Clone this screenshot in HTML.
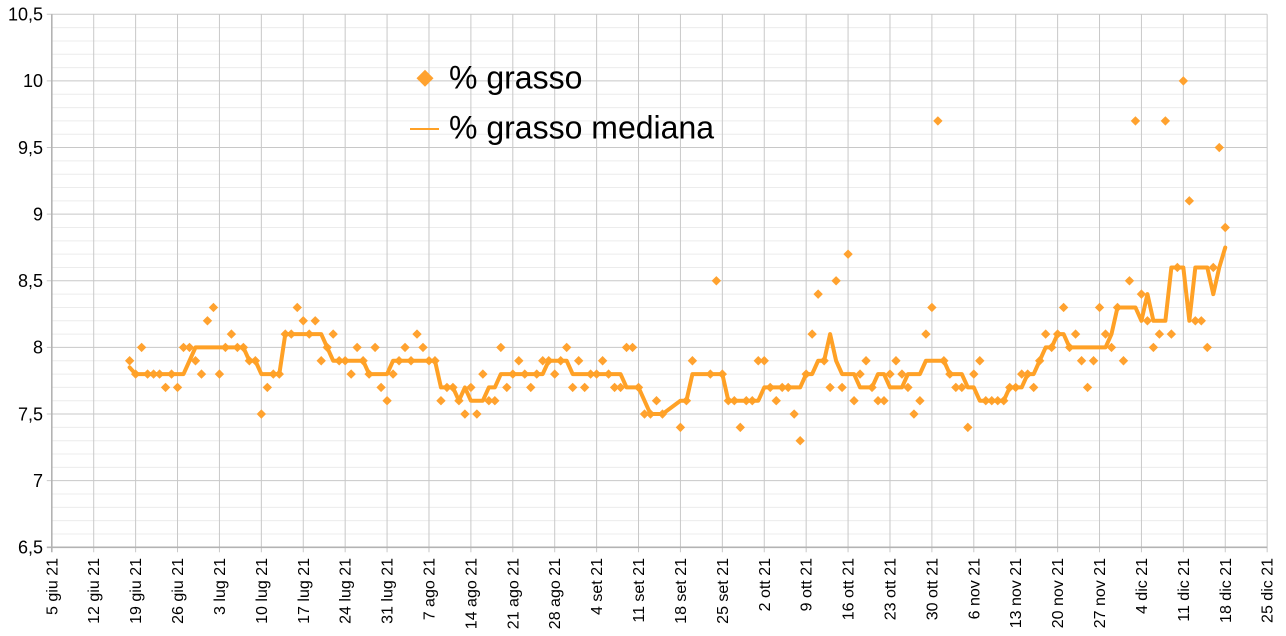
<!DOCTYPE html>
<html><head><meta charset="utf-8"><style>
html,body{margin:0;padding:0;background:#fff;}
svg{display:block;font-family:"Liberation Sans",Arial,sans-serif;}
</style></head><body>
<svg id="c" width="1286" height="636" viewBox="0 0 1286 636" xmlns="http://www.w3.org/2000/svg">
<rect x="0" y="0" width="1286" height="636" fill="#fff"/>
<g id="grid"></g>
<g id="series"></g>
<g font-size="18" fill="#000" text-anchor="end">
<text x="43" y="20.6">10,5</text>
<text x="43" y="87.2">10</text>
<text x="43" y="153.8">9,5</text>
<text x="43" y="220.5">9</text>
<text x="43" y="287.1">8,5</text>
<text x="43" y="353.7">8</text>
<text x="43" y="420.3">7,5</text>
<text x="43" y="487">7</text>
<text x="43" y="553.6">6,5</text>
</g>
<g font-size="16" fill="#000" text-anchor="end">
<text transform="translate(57.3,558) rotate(-90)">5 giu 21</text>
<text transform="translate(99.2,558) rotate(-90)">12 giu 21</text>
<text transform="translate(141.1,558) rotate(-90)">19 giu 21</text>
<text transform="translate(183.0,558) rotate(-90)">26 giu 21</text>
<text transform="translate(224.9,558) rotate(-90)">3 lug 21</text>
<text transform="translate(266.8,558) rotate(-90)">10 lug 21</text>
<text transform="translate(308.8,558) rotate(-90)">17 lug 21</text>
<text transform="translate(350.7,558) rotate(-90)">24 lug 21</text>
<text transform="translate(392.6,558) rotate(-90)">31 lug 21</text>
<text transform="translate(434.5,558) rotate(-90)">7 ago 21</text>
<text transform="translate(476.4,558) rotate(-90)">14 ago 21</text>
<text transform="translate(518.3,558) rotate(-90)">21 ago 21</text>
<text transform="translate(560.2,558) rotate(-90)">28 ago 21</text>
<text transform="translate(602.1,558) rotate(-90)">4 set 21</text>
<text transform="translate(644.0,558) rotate(-90)">11 set 21</text>
<text transform="translate(685.9,558) rotate(-90)">18 set 21</text>
<text transform="translate(727.8,558) rotate(-90)">25 set 21</text>
<text transform="translate(769.8,558) rotate(-90)">2 ott 21</text>
<text transform="translate(811.7,558) rotate(-90)">9 ott 21</text>
<text transform="translate(853.6,558) rotate(-90)">16 ott 21</text>
<text transform="translate(895.5,558) rotate(-90)">23 ott 21</text>
<text transform="translate(937.4,558) rotate(-90)">30 ott 21</text>
<text transform="translate(979.3,558) rotate(-90)">6 nov 21</text>
<text transform="translate(1021.2,558) rotate(-90)">13 nov 21</text>
<text transform="translate(1063.1,558) rotate(-90)">20 nov 21</text>
<text transform="translate(1105.0,558) rotate(-90)">27 nov 21</text>
<text transform="translate(1146.9,558) rotate(-90)">4 dic 21</text>
<text transform="translate(1188.8,558) rotate(-90)">11 dic 21</text>
<text transform="translate(1230.8,558) rotate(-90)">18 dic 21</text>
<text transform="translate(1272.7,558) rotate(-90)">25 dic 21</text>
</g>
<!-- legend -->
<path d="M425,69.8 L433.5,78.3 L425,86.8 L416.5,78.3 Z" fill="#ffa22f"/>
<line x1="410" y1="129" x2="439" y2="129" stroke="#ffa126" stroke-width="2"/>
<g font-size="32" fill="#000">
<text x="449" y="88.3">% grasso</text>
<text x="449" y="138.3">% grasso mediana</text>
</g>
</svg>
<script>
(function(){
var NS="http://www.w3.org/2000/svg";
var L=51.8, DX=5.987, B=547.3, SY=133.25;
function X(d){return L+d*DX;}
function Y(v){return B-(v-6.5)*SY;}
var grid=document.getElementById("grid"), ser=document.getElementById("series");
function el(p,tag,a){var e=document.createElementNS(NS,tag);for(var k in a)e.setAttribute(k,a[k]);p.appendChild(e);return e;}
var R=X(203);
for(var i=0;i<=40;i++){ if(i%5==0) continue; var y=Y(6.5+i*0.1);
 el(grid,"line",{x1:L,x2:R,y1:y,y2:y,stroke:"#ececec","stroke-width":1});}
for(var i=1;i<=8;i++){ var y=Y(6.5+i*0.5);
 el(grid,"line",{x1:L-5,x2:R,y1:y,y2:y,stroke:"#c8c8c8","stroke-width":1});}
for(var k=1;k<=29;k++){ var x=X(k*7);
 el(grid,"line",{x1:x,x2:x,y1:Y(10.5),y2:B+5,stroke:"#c8c8c8","stroke-width":1});}
el(grid,"line",{x1:L,x2:L,y1:Y(10.5),y2:B+5,stroke:"#b3b3b3","stroke-width":1.6});
el(grid,"line",{x1:L-5,x2:R,y1:B,y2:B,stroke:"#b3b3b3","stroke-width":1.6});
var data={13:7.9,14:7.8,15:8.0,16:7.8,17:7.8,18:7.8,19:7.7,20:7.8,21:7.7,22:8.0,23:8.0,24:7.9,25:7.8,26:8.2,27:8.3,28:7.8,29:8.0,30:8.1,31:8.0,32:8.0,33:7.9,34:7.9,35:7.5,36:7.7,37:7.8,38:7.8,39:8.1,40:8.1,41:8.3,42:8.2,43:8.1,44:8.2,45:7.9,46:8.0,47:8.1,48:7.9,49:7.9,50:7.8,
51:8.0,52:7.9,53:7.8,54:8.0,55:7.7,56:7.6,57:7.8,58:7.9,59:8.0,60:7.9,61:8.1,62:8.0,63:7.9,64:7.9,65:7.6,66:7.7,67:7.7,68:7.6,69:7.5,70:7.7,71:7.5,72:7.8,73:7.6,74:7.6,75:8.0,76:7.7,77:7.8,78:7.9,79:7.8,80:7.7,81:7.8,82:7.9,83:7.9,84:7.8,85:7.9,86:8.0,87:7.7,88:7.9,89:7.7,90:7.8,91:7.8,92:7.9,93:7.8,94:7.7,95:7.7,96:8.0,97:8.0,98:7.7,99:7.5,
100:7.5,101:7.6,102:7.5,105:7.4,106:7.6,107:7.9,110:7.8,111:8.5,112:7.8,113:7.6,114:7.6,115:7.4,116:7.6,117:7.6,118:7.9,119:7.9,120:7.7,121:7.6,122:7.7,123:7.7,124:7.5,125:7.3,126:7.8,127:8.1,128:8.4,129:7.9,130:7.7,131:8.5,132:7.7,133:8.7,134:7.6,135:7.8,136:7.9,137:7.7,138:7.6,139:7.6,140:7.8,141:7.9,142:7.8,143:7.7,144:7.5,145:7.6,146:8.1,147:8.3,
148:9.7,149:7.9,150:7.8,151:7.7,152:7.7,153:7.4,154:7.8,155:7.9,156:7.6,157:7.6,158:7.6,159:7.6,160:7.7,161:7.7,162:7.8,163:7.8,164:7.7,165:7.9,166:8.1,167:8.0,168:8.1,169:8.3,170:8.0,171:8.1,172:7.9,173:7.7,174:7.9,175:8.3,176:8.1,177:8.0,178:8.3,179:7.9,180:8.5,181:9.7,182:8.4,183:8.2,184:8.0,185:8.1,186:9.7,187:8.1,188:8.6,189:10.0,190:9.1,191:8.2,192:8.2,193:8.0,194:8.6,195:9.5,196:8.9};
var days=Object.keys(data).map(Number).sort(function(a,b){return a-b;});
var h=4.7;
days.forEach(function(d){var x=X(d),y=Y(data[d]);
 el(ser,"path",{d:"M"+x+","+(y-h)+"L"+(x+h)+","+y+"L"+x+","+(y+h)+"L"+(x-h)+","+y+"Z",fill:"#ffa22f"});});
var pts=[], n=days.length;
for(var i=0;i<n;i++){var w=[];for(var j=i-3;j<=i+3;j++){if(j>=0&&j<n)w.push(data[days[j]]);}
 w.sort(function(a,b){return a-b;});var m=w.length;var md=m%2?w[(m-1)/2]:(w[m/2-1]+w[m/2])/2;
 pts.push(X(days[i]).toFixed(2)+","+Y(md).toFixed(2));}
el(ser,"polyline",{points:pts.join(" "),fill:"none",stroke:"#ffa126","stroke-width":4,"stroke-linejoin":"round","stroke-linecap":"round"});
})();
</script>
</body></html>
